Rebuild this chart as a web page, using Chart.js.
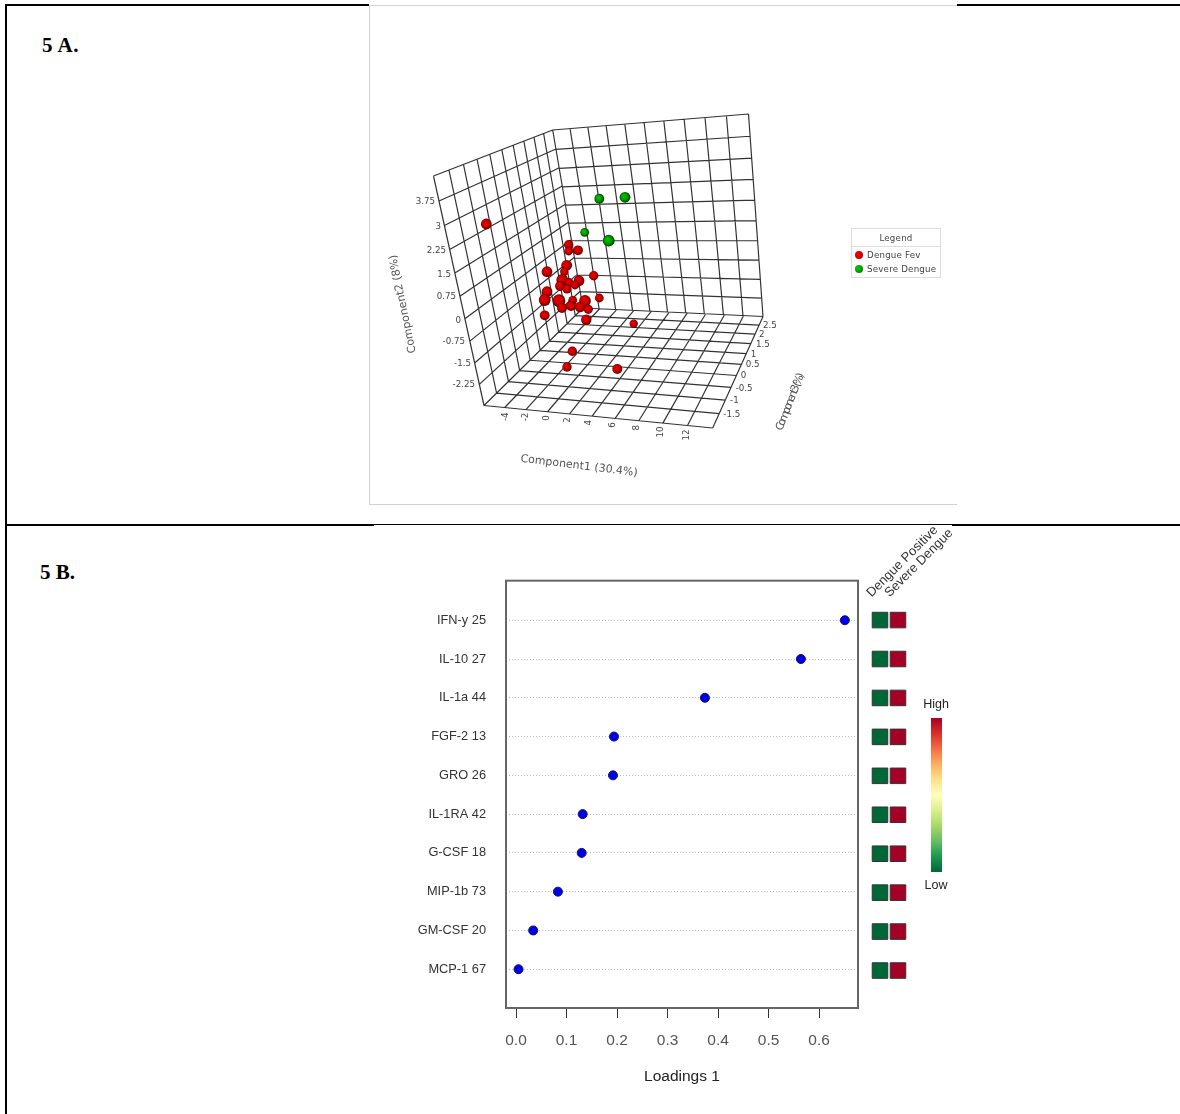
<!DOCTYPE html>
<html>
<head>
<meta charset="utf-8">
<title>Figure 5</title>
<script src="https://cdn.jsdelivr.net/npm/chart.js"></script>
<style>
    html, body { margin: 0; padding: 0; background: #fff; }
    body { position: relative; width: 1180px; height: 1114px; overflow: hidden; }
    canvas { position: absolute; display: block; }
    .rule { position: absolute; background: #000; }
    .pic-edge { position: absolute; background: #d2d2d2; }
    .panel-title { position: absolute; font: bold 21px "Liberation Serif", serif; line-height: 24px; color: #000; }
    .scale-label { position: absolute; width: 60px; text-align: center; font: 12.5px "Liberation Sans", sans-serif; color: #222; }
    #legend { position: absolute; left: 851px; top: 228px; width: 88px; height: 48px; border: 1px solid #ddd;
              font: 8.7px "DejaVu Sans", sans-serif; letter-spacing: .2px; color: #444; }
    #legend .head { height: 17px; line-height: 18px; text-align: center; border-bottom: 1px solid #ddd; }
    #legend .item { position: absolute; left: 15px; white-space: nowrap; }
    #legend .dot { position: absolute; left: 3px; width: 8px; height: 8px; border-radius: 50%; }
</style>
</head>
<body>
<div class="rule" style="left:5px;top:4px;width:364px;height:2px"></div>
<div class="rule" style="left:957px;top:4px;width:223px;height:2px"></div>
<div class="rule" style="left:5px;top:4px;width:2px;height:1110px"></div>
<div class="rule" style="left:5px;top:524px;width:369px;height:2px"></div>
<div class="rule" style="left:374px;top:524px;width:578px;height:1px"></div>
<div class="rule" style="left:952px;top:524px;width:228px;height:2px"></div>
<div class="pic-edge" style="left:369px;top:5px;width:588px;height:1px"></div>
<div class="pic-edge" style="left:369px;top:5px;width:1px;height:500px"></div>
<div class="pic-edge" style="left:369px;top:504px;width:588px;height:1px"></div>

<div class="panel-title" style="left:42px;top:33px;letter-spacing:.5px">5 A.</div>
<div class="panel-title" style="left:40px;top:560px">5 B.</div>

<canvas id="scatter3d" width="586" height="498" style="left:370px;top:6px"></canvas>
<div id="legend">
    <div class="head">Legend</div>
    <div class="dot" style="top:22px;background:radial-gradient(circle at 35% 35%,#f00,#c00 60%,#600)"></div>
    <div class="item" style="top:21px">Dengue Fev</div>
    <div class="dot" style="top:36px;background:radial-gradient(circle at 35% 35%,#0c0,#090 60%,#040)"></div>
    <div class="item" style="top:35px">Severe Dengue</div>
</div>

<canvas id="loadings" width="485" height="537" style="left:375px;top:553px"></canvas>
<canvas id="heatmap" width="100" height="468" style="left:862px;top:522px"></canvas>
<canvas id="colorbar" width="11" height="154" style="left:931px;top:718px"></canvas>
<div class="scale-label" style="left:906px;top:697px">High</div>
<div class="scale-label" style="left:906px;top:878px">Low</div>

<script>
// Panel A: 3D PCA plot
const dengueX = [486.3, 568.7, 568.7, 578, 566.7, 564.3, 547, 593.7, 579, 562.3, 569, 575, 560, 567, 547,
    544.7, 559, 572.7, 585, 599.3, 562, 571, 580, 588.3, 544.7, 586.3, 633.7, 572.3, 567, 617.3];
const dengueY = [224, 244.7, 251, 250.3, 265.3, 271.7, 271.7, 275.7, 280.7, 280, 282.3, 285, 286, 289, 291.7,
    300, 300.7, 300.3, 301, 298, 308, 306, 307, 309.3, 315.3, 319.7, 323.7, 351.3, 367, 369];
const dengueR = [5.4, 4.7, 4.4, 4.9, 5.4, 4.2, 5.4, 4.7, 5.4, 5.9, 4.2, 4.4, 4.9, 4.6, 5.4,
    5.9, 6.4, 4.4, 5.9, 4.4, 5, 4.9, 5.2, 4.6, 4.9, 5.2, 4.2, 4.7, 4.7, 5];
const severeX = [599.3, 625, 584.7, 608.7];
const severeY = [198.7, 197.3, 232.3, 240.7];
const severeR = [4.9, 5.4, 4.4, 5.9];

// box corners: front top, back top, right top, back floor, front floor, right floor, right back floor
const cornerX = { frontTop: 433.5, backTop: 552.7, rightTop: 748.5, backFloor: 583, frontFloor: 484, rightFloor: 712.7, rightBackFloor: 763 };
const cornerY = { frontTop: 176, backTop: 130, rightTop: 114, backFloor: 308, frontFloor: 405.5, rightFloor: 428, rightBackFloor: 316.5 };
const gridDivisions = 10;

const comp2Ticks = ['3.75', '3', '2.25', '1.5', '0.75', '0', '-0.75', '-1.5', '-2.25'];
const comp2TickX = [435, 441, 446, 451, 456, 461, 465, 471, 475];
const comp2TickY = [201.7, 226.7, 250.7, 275, 297, 320.7, 342, 364, 385];
const comp1Ticks = ['-4', '-2', '0', '2', '4', '6', '8', '10', '12'];
const comp1TickX = [505.7, 525.7, 546.7, 568, 589, 613, 636.7, 661, 686.7];
const comp1TickY = [416.7, 417, 418, 420, 422.7, 425, 427.7, 432, 435];
const comp3Ticks = ['-1.5', '-1', '-0.5', '0', '0.5', '1', '1.5', '2', '2.5'];
const comp3TickX = [723.3, 730, 735.7, 740.7, 745.7, 750.7, 756, 759, 763];
const comp3TickY = [414.3, 401, 388.3, 375.7, 365, 354.3, 344.3, 334.3, 326];

// Panel B: loadings plot
const markers = ['IFN-y 25', 'IL-10 27', 'IL-1a 44', 'FGF-2 13', 'GRO 26', 'IL-1RA 42', 'G-CSF 18', 'MIP-1b 73', 'GM-CSF 20', 'MCP-1 67'];
const loadings = [0.651, 0.564, 0.374, 0.194, 0.192, 0.132, 0.130, 0.083, 0.034, 0.005];
const groups = ['Dengue Positive', 'Severe Dengue'];
const dengueLevel = ['low', 'low', 'low', 'low', 'low', 'low', 'low', 'low', 'low', 'low'];
const severeLevel = ['high', 'high', 'high', 'high', 'high', 'high', 'high', 'high', 'high', 'high'];
const scaleStops = ['#a50026', '#d73027', '#f46d43', '#fdae61', '#fee08b', '#ffffbf', '#d9ef8b', '#a6d96a', '#66bd63', '#1a9850', '#006837'];

Chart.defaults.animation = false;
Chart.defaults.responsive = false;
Chart.defaults.plugins.legend.display = false;
Chart.defaults.plugins.tooltip.enabled = false;

function zip(xs, ys) {
    return xs.map((x, i) => ({ x: x, y: ys[i] }));
}

// Perspective map from the unit square onto a quad of box corners
function quadMapper(names) {
    const [x0, x1, x2, x3] = names.map(n => cornerX[n]);
    const [y0, y1, y2, y3] = names.map(n => cornerY[n]);
    const dx1 = x1 - x2, dx2 = x3 - x2, sx = x0 - x1 + x2 - x3;
    const dy1 = y1 - y2, dy2 = y3 - y2, sy = y0 - y1 + y2 - y3;
    const den = dx1 * dy2 - dx2 * dy1;
    const g = (sx * dy2 - dx2 * sy) / den;
    const h = (dx1 * sy - sx * dy1) / den;
    const a = x1 - x0 + g * x1, b = x3 - x0 + h * x3;
    const d = y1 - y0 + g * y1, e = y3 - y0 + h * y3;
    return (u, v) => {
        const w = g * u + h * v + 1;
        return { x: (a * u + b * v + x0) / w, y: (d * u + e * v + y0) / w };
    };
}

function wallLines(names) {
    const map = quadMapper(names);
    const out = [];
    for (let i = 0; i <= gridDivisions; i++) {
        const t = i / gridDivisions;
        out.push(map(t, 0), map(t, 1), { x: null, y: null });
        out.push(map(0, t), map(1, t), { x: null, y: null });
    }
    return out;
}

const gridPoints = [
    ...wallLines(['frontTop', 'backTop', 'backFloor', 'frontFloor']),
    ...wallLines(['backTop', 'rightTop', 'rightBackFloor', 'backFloor']),
    ...wallLines(['frontFloor', 'rightFloor', 'rightBackFloor', 'backFloor'])
];

function sphereFill(context, stops) {
    const raw = context.raw;
    if (!raw) return stops[1];
    const scales = context.chart.scales;
    const x = scales.x.getPixelForValue(raw.x);
    const y = scales.y.getPixelForValue(raw.y);
    const r = context.dataset.radii[context.dataIndex];
    // options also get resolved before layout, when the scales have no pixels yet
    if (!Number.isFinite(x) || !Number.isFinite(y)) return stops[1];
    const fill = context.chart.ctx.createRadialGradient(x - r * 0.3, y - r * 0.3, 0, x, y, r);
    fill.addColorStop(0, stops[0]);
    fill.addColorStop(0.65, stops[1]);
    fill.addColorStop(1, stops[2]);
    return fill;
}

function sphereDataset(xs, ys, radii, stops, order) {
    return {
        data: zip(xs, ys),
        radii: radii,
        order: order,
        showLine: false,
        pointRadius: c => radii[c.dataIndex],
        pointBorderWidth: 0,
        backgroundColor: c => sphereFill(c, stops)
    };
}

function drawText(chart, text, x, y, opts) {
    const ctx = chart.ctx;
    ctx.save();
    ctx.translate(chart.scales.x.getPixelForValue(x), chart.scales.y.getPixelForValue(y));
    ctx.rotate((opts.angle || 0) * Math.PI / 180);
    ctx.font = opts.font || '8.7px "DejaVu Sans"';
    ctx.fillStyle = opts.color || '#444';
    ctx.textAlign = opts.align || 'center';
    ctx.textBaseline = 'middle';
    if (opts.spacing) ctx.letterSpacing = opts.spacing;
    ctx.fillText(text, 0, 0);
    ctx.restore();
}

const boxLabels = {
    id: 'boxLabels',
    afterDatasetsDraw(chart) {
        comp2Ticks.forEach((t, i) => drawText(chart, t, comp2TickX[i], comp2TickY[i], { align: 'right' }));
        comp1Ticks.forEach((t, i) => drawText(chart, t, comp1TickX[i], comp1TickY[i], { angle: -90 }));
        comp3Ticks.forEach((t, i) => drawText(chart, t, comp3TickX[i], comp3TickY[i], { align: 'left' }));
        const title = { font: '11px "DejaVu Sans"', color: '#555' };
        drawText(chart, 'Component2 (8%)', 403, 304, { ...title, angle: -101.5 });
        drawText(chart, 'Component1 (30.4%)', 579, 466, { ...title, angle: 7 });
        drawText(chart, 'Component3 (%)', 790, 403, { ...title, angle: -68.5, spacing: '-2.5px' });
    }
};

new Chart(document.getElementById('scatter3d'), {
    type: 'scatter',
    data: {
        datasets: [
            {
                data: gridPoints,
                order: 3,
                showLine: true,
                spanGaps: false,
                pointRadius: 0,
                borderColor: '#333',
                borderWidth: 1.2
            },
            sphereDataset(dengueX, dengueY, dengueR, ['#ee0000', '#c80000', '#5e0000'], 2),
            sphereDataset(severeX, severeY, severeR, ['#00cc00', '#009600', '#003c00'], 1)
        ]
    },
    options: {
        layout: { autoPadding: false },
        scales: {
            x: { display: false, min: 370, max: 956 },
            y: { display: false, min: 6, max: 504, reverse: true }
        }
    },
    plugins: [boxLabels]
});

const plotFrame = {
    id: 'plotFrame',
    afterDatasetsDraw(chart) {
        const a = chart.chartArea, ctx = chart.ctx;
        ctx.save();
        ctx.strokeStyle = '#666';
        ctx.lineWidth = 2;
        ctx.strokeRect(a.left, a.top, a.right - a.left, a.bottom - a.top);
        ctx.restore();
    }
};

new Chart(document.getElementById('loadings'), {
    type: 'scatter',
    data: {
        datasets: [{
            data: loadings.map((v, i) => ({ x: v, y: i + 1 })),
            pointRadius: 4.5,
            backgroundColor: '#0000e6',
            borderColor: '#10106a',
            borderWidth: 1
        }]
    },
    options: {
        layout: { autoPadding: false, padding: { top: 11, right: 2 } },
        scales: {
            x: {
                min: -0.0198,
                max: 0.677,
                afterFit: s => { s.height = 82; },
                grid: { drawOnChartArea: false, tickLength: 10, tickColor: '#333' },
                border: { display: false },
                ticks: {
                    stepSize: 0.1,
                    includeBounds: false,
                    padding: 13,
                    maxRotation: 0,
                    color: '#555',
                    font: { family: '"Liberation Sans"', size: 15.5 },
                    callback: v => v.toFixed(1)
                },
                title: {
                    display: true,
                    text: 'Loadings 1',
                    color: '#222',
                    padding: { top: 4 },
                    font: { family: '"Liberation Sans"', size: 15.5 }
                }
            },
            y: {
                reverse: true,
                min: -0.02,
                max: 11,
                afterFit: s => { s.width = 131; },
                grid: {
                    drawTicks: false,
                    color: c => (c.tick.value >= 1 && c.tick.value <= 10) ? '#bbb' : 'transparent'
                },
                border: { display: false, dash: [1, 2] },
                afterBuildTicks: s => {
                    s.ticks = markers.map((m, i) => ({ value: i + 1 }));
                },
                ticks: {
                    autoSkip: false,
                    padding: 20,
                    color: '#333',
                    font: { family: '"Liberation Sans"', size: 12.8 },
                    callback: v => markers[v - 1] || ''
                }
            }
        }
    },
    plugins: [plotFrame]
});

function levelColor(level) {
    return level === 'high' ? scaleStops[0] : scaleStops[scaleStops.length - 1];
}

function heatCells(levels, group) {
    return {
        data: levels.map((l, i) => ({ x: group, y: i + 1 })),
        pointStyle: 'rect',
        pointRadius: 11,
        backgroundColor: levels.map(levelColor),
        borderColor: '#333',
        borderWidth: 1
    };
}

new Chart(document.getElementById('heatmap'), {
    type: 'scatter',
    data: {
        labels: groups,
        datasets: [heatCells(dengueLevel, groups[0]), heatCells(severeLevel, groups[1])]
    },
    options: {
        layout: { autoPadding: false, padding: { left: 9, right: 55 } },
        scales: {
            x: {
                type: 'category',
                position: 'top',
                offset: true,
                labels: groups,
                afterFit: s => {
                    // rotated labels would otherwise push the columns together
                    s.height = 78.6;
                    s.paddingLeft = 0;
                    s.paddingRight = 0;
                },
                grid: { display: false },
                border: { display: false },
                ticks: {
                    autoSkip: false,
                    minRotation: 45,
                    maxRotation: 45,
                    labelOffset: 0,
                    padding: -8,
                    color: '#333',
                    font: { family: '"Liberation Sans"', size: 13 }
                }
            },
            y: { display: false, reverse: true, min: 0.5, max: 10.5 }
        }
    }
});

new Chart(document.getElementById('colorbar'), {
    type: 'bar',
    data: {
        labels: ['scale'],
        datasets: [{
            data: [1],
            barPercentage: 1,
            categoryPercentage: 1,
            backgroundColor: c => {
                const fill = c.chart.ctx.createLinearGradient(0, 0, 0, c.chart.height);
                scaleStops.forEach((s, i) => fill.addColorStop(i / (scaleStops.length - 1), s));
                return fill;
            }
        }]
    },
    options: {
        scales: {
            x: { display: false },
            y: { display: false, min: 0, max: 1 }
        }
    }
});
</script>
</body>
</html>
